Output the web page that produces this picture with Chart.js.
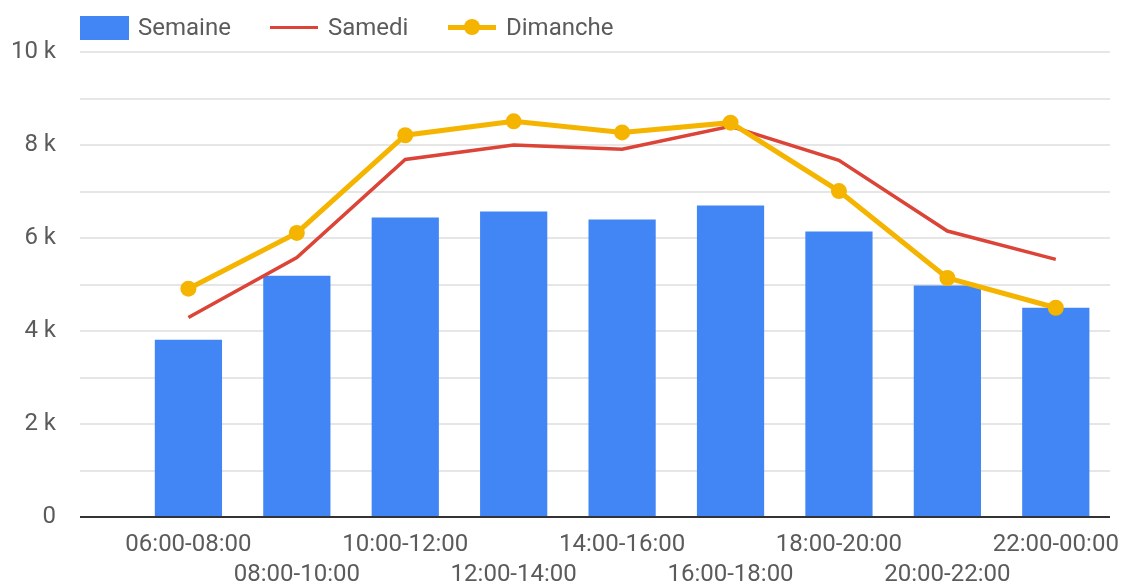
<!DOCTYPE html>
<html>
<head>
<meta charset="utf-8">
<script src="https://cdn.jsdelivr.net/npm/chart.js@4.4.1/dist/chart.umd.min.js"></script>
<style>
  html, body { margin: 0; padding: 0; background: #ffffff; }
  #wrap { position: relative; width: 1122px; height: 586px; }
  #legend { position: absolute; top: 0; left: 0; width: 1122px; height: 50px;
    font: 24px Roboto, sans-serif; color: #5b5b5b; }
  .sw { position: absolute; }
  .txt { position: absolute; top: 13px; line-height: 28px; }
</style>
</head>
<body>
<div id="wrap">
  <canvas id="chart" width="1122" height="586"></canvas>
  <div id="legend">
    <div class="sw" style="left:80px;top:16px;width:49px;height:24px;background:#4285f4"></div>
    <div class="txt" style="left:138px">Semaine</div>
    <div class="sw" style="left:270px;top:26px;width:48px;height:3px;background:#db4437"></div>
    <div class="txt" style="left:328px">Samedi</div>
    <div class="sw" style="left:448px;top:25px;width:48px;height:5px;background:#f4b400"></div>
    <div class="sw" style="left:464px;top:19px;width:16px;height:16px;border-radius:50%;background:#f4b400"></div>
    <div class="txt" style="left:506px">Dimanche</div>
  </div>
</div>
<script>
const labels = [
  "06:00-08:00", "08:00-10:00", "10:00-12:00", "12:00-14:00", "14:00-16:00",
  "16:00-18:00", "18:00-20:00", "20:00-22:00", "22:00-00:00",
];
const semaine = [3810, 5190, 6440, 6570, 6400, 6700, 6140, 4980, 4500];
const samedi = [4290, 5580, 7690, 8000, 7910, 8400, 7670, 6150, 5540];
const dimanche = [4910, 6110, 8210, 8510, 8270, 8480, 7010, 5140, 4500];

const textColor = "#5b5b5b";

function toPoints(values) {
  return values.map((v, i) => {
    return { x: i, y: v };
  });
}

const ctx = document.getElementById("chart").getContext("2d");
new Chart(ctx, {
  type: "bar",
  data: {
    datasets: [
      {
        type: "bar",
        label: "Semaine",
        data: toPoints(semaine),
        backgroundColor: "#4285f4",
        barPercentage: 0.62,
        categoryPercentage: 1,
        order: 3,
      },
      {
        type: "line",
        label: "Samedi",
        data: toPoints(samedi),
        borderColor: "#db4437",
        backgroundColor: "#db4437",
        borderWidth: 3.5,
        pointRadius: 0,
        tension: 0,
        order: 2,
      },
      {
        type: "line",
        label: "Dimanche",
        data: toPoints(dimanche),
        borderColor: "#f4b400",
        backgroundColor: "#f4b400",
        borderWidth: 5,
        pointRadius: 8,
        pointBorderWidth: 0,
        tension: 0,
        order: 1,
      },
    ],
  },
  options: {
    responsive: false,
    animation: false,
    layout: { padding: { top: 52, right: 12, left: 0, bottom: 0 } },
    plugins: {
      legend: { display: false },
      tooltip: { enabled: false },
    },
    scales: {
      x: {
        type: "linear",
        min: -1,
        max: 8.5,
        offset: false,
        grid: { display: false, drawTicks: false },
        border: { display: false },
        afterBuildTicks: (scale) => {
          scale.ticks = labels.map((l, i) => {
            return { value: i };
          });
        },
        afterFit: (scale) => {
          scale.height = 69;
          scale.paddingLeft = 0;
          scale.paddingRight = 0;
        },
        ticks: {
          autoSkip: false,
          maxRotation: 0,
          padding: 13,
          color: textColor,
          font: { family: "Roboto", size: 24, lineHeight: 1.25 },
          callback: (value, index) => {
            return index % 2 === 0 ? labels[index] : ["", labels[index]];
          },
        },
      },
      y: {
        min: 0,
        max: 10000,
        border: { display: false },
        afterFit: (scale) => {
          scale.width = 80;
        },
        grid: {
          drawTicks: false,
          lineWidth: 2,
          color: (c) => {
            return c.tick && c.tick.value === 0 ? "#333333" : "#e6e6e6";
          },
        },
        ticks: {
          stepSize: 1000,
          padding: 24,
          color: textColor,
          font: { family: "Roboto", size: 24 },
          callback: (v) => {
            if (v === 0) return "0";
            return v % 2000 === 0 ? `${v / 1000} k` : "";
          },
        },
      },
    },
  },
});
</script>
</body>
</html>
